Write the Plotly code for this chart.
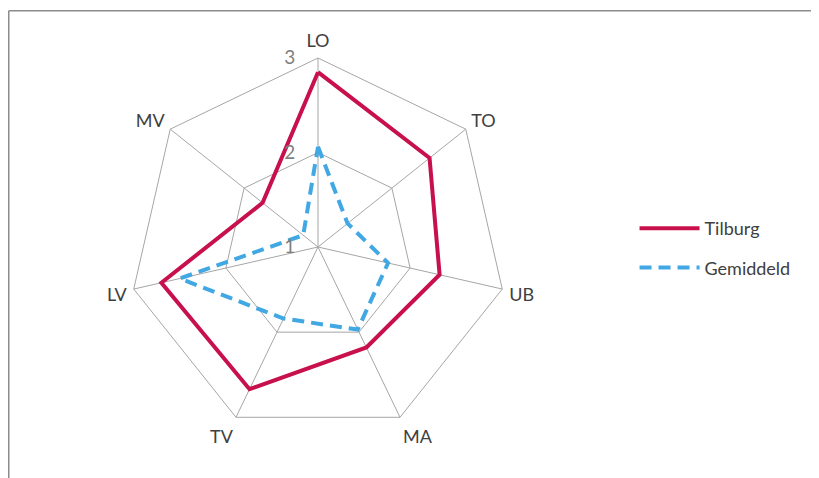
import plotly.graph_objects as go

categories = ["LO", "TO", "UB", "MA", "TV", "LV", "MV"]
tilburg = [2.85, 2.51, 2.32, 2.18, 2.67, 2.70, 1.75]
gemiddeld = [2.06, 1.40, 1.76, 1.97, 1.84, 2.50, 1.20]
radial_ticks = [1, 2, 3]

W, H = 819, 478
# page has an 8px body margin; positions below are in figure pixels
cx, cy, R = 310, 239, 189

fig = go.Figure()
fig.add_trace(go.Scatterpolar(
    r=tilburg + tilburg[:1], theta=categories + categories[:1],
    mode="lines", name="Tilburg", legendgroup="a",
    line=dict(color="#C8104C", width=4)))
fig.add_trace(go.Scatterpolar(
    r=gemiddeld + gemiddeld[:1], theta=categories + categories[:1],
    mode="lines", name="Gemiddeld", legendgroup="b",
    line=dict(color="#41A8E4", width=4, dash="12px,7px")))

fig.update_layout(
    width=W, height=H,
    margin=dict(l=0, r=0, t=0, b=0),
    paper_bgcolor="white", plot_bgcolor="white",
    font=dict(family="Lato, Carlito, sans-serif", size=18, color="#404040"),
    polar=dict(
        domain=dict(x=[(cx - R) / W, (cx + R) / W],
                    y=[(H - cy - R) / H, (H - cy + R) / H]),
        gridshape="linear",
        bgcolor="white",
        angularaxis=dict(rotation=90, direction="clockwise",
                         showline=True, linecolor="#A6A6A6", linewidth=1,
                         gridcolor="#A6A6A6", gridwidth=1,
                         ticks="outside", ticklen=3, tickcolor="rgba(0,0,0,0)",
                         tickfont=dict(size=18, color="#404040")),
        radialaxis=dict(range=[1, 3], tickvals=radial_ticks,
                        ticktext=[str(v) + "\u00a0" * 4 for v in radial_ticks],
                        angle=90, tickangle=90, side="counterclockwise",
                        showline=False, ticks="",
                        gridcolor="#A6A6A6", gridwidth=1,
                        tickfont=dict(size=19, color="#7F7F7F")),
    ),
    legend=dict(x=0.765, y=0.498, xanchor="left", yanchor="middle",
                font=dict(size=18, color="#404040"),
                itemwidth=60, tracegroupgap=13),
    showlegend=True,
    shapes=[
        dict(type="line", xref="paper", yref="paper",
             x0=0.75 / W, y0=0, x1=0.75 / W, y1=1 - 2.7 / H,
             line=dict(color="#8C8C8C", width=1.5)),
        dict(type="line", xref="paper", yref="paper",
             x0=0.75 / W, y0=1 - 2.7 / H, x1=1, y1=1 - 2.7 / H,
             line=dict(color="#8C8C8C", width=1.5)),
    ],
)

fig.write_html("out.html")
